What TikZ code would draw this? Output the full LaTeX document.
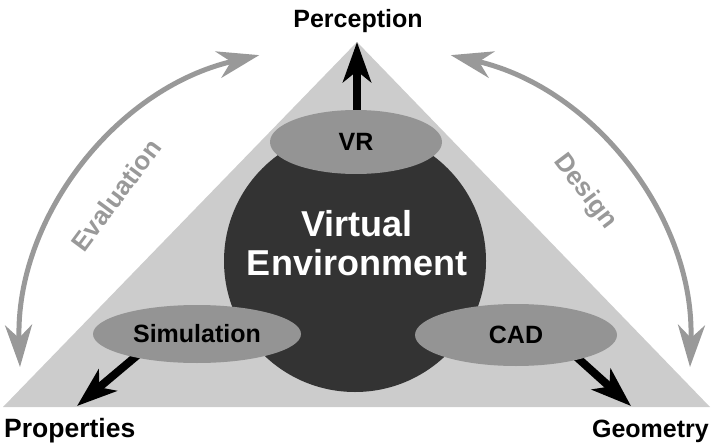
\documentclass[tikz,border=0pt]{standalone}
\usepackage{fontspec}
\setmainfont{Liberation Sans}
\usetikzlibrary{shapes.geometric,arrows.meta}

\definecolor{planegray}{gray}{0.80}
\definecolor{spheregray}{gray}{0.20}
\definecolor{discgray}{gray}{0.58}
\definecolor{loopgray}{gray}{0.60}

\tikzset{
  lbl/.style={font=\bfseries\fontsize{25}{30}\selectfont, inner sep=0pt},
  disc/.style={ellipse, fill=discgray, inner sep=0pt,
    font=\bfseries\fontsize{25}{30}\selectfont},
  outarrow/.style={line width=8pt, black,
    -{Stealth[length=40pt,width=28pt,inset=11pt]}},
  loopline/.style={line width=5pt, loopgray,
    {Stealth[length=42pt,width=27pt,inset=13pt]}-{Stealth[length=42pt,width=27pt,inset=13pt]}},
  looplbl/.style={text=loopgray, inner sep=0pt,
    font=\bfseries\fontsize{26}{30}\selectfont}
}

\begin{document}
\begin{tikzpicture}[x=1pt,y=1pt]
  \useasboundingbox (0,0) rectangle (711,445);

  % corners of the triangle
  \coordinate (bl) at (3,38);
  \coordinate (br) at (710,38);
  \coordinate (apex) at (357,403);
  \coordinate (proptip) at (77,39);
  \coordinate (geotip) at (631,39);

  % background triangle
  \fill[planegray] (bl) -- (br) -- (apex) -- cycle;

  % central sphere
  \node[circle, fill=spheregray, minimum size=262pt, inner sep=0pt] (ve) at (355,184) {};
  \node[text=white, align=center, inner sep=0pt,
        font=\bfseries\fontsize{36}{39}\selectfont] (vetext) at (357,202) {Virtual\\Environment};

  % outgoing arrows (drawn under the discs)
  \draw[outarrow] (357,320) -- (apex);
  \draw[outarrow] (140,92) -- (proptip);
  \draw[outarrow] (571,93) -- (geotip);

  % discs
  \node[disc, minimum width=172pt, minimum height=64pt] (vr) at (356,303) {VR};
  \node[disc, minimum width=208pt, minimum height=58pt] (sim) at (197,111) {Simulation};
  \node[disc, minimum width=202pt, minimum height=62pt] (cad) at (516,110) {CAD};

  % corner labels
  \node[lbl, anchor=base] (perc) at (358,417) {Perception};
  \node[lbl, anchor=base west, font=\bfseries\fontsize{26.5}{30}\selectfont] (prop) at (4,8) {Properties};
  \node[lbl, anchor=base east] (geo) at (709,8) {Geometry};

  % cycle arcs
  \draw[loopline] (20,78) arc[start angle=182, end angle=103, radius=309];
  \draw[loopline] (690,78) arc[start angle=-2, end angle=77, radius=309];

  \node[looplbl, rotate=53.4] (evl) at (116,250) {Evaluation};
  \node[looplbl, rotate=-53] (dsg) at (585,253) {Design};
\end{tikzpicture}
\end{document}
